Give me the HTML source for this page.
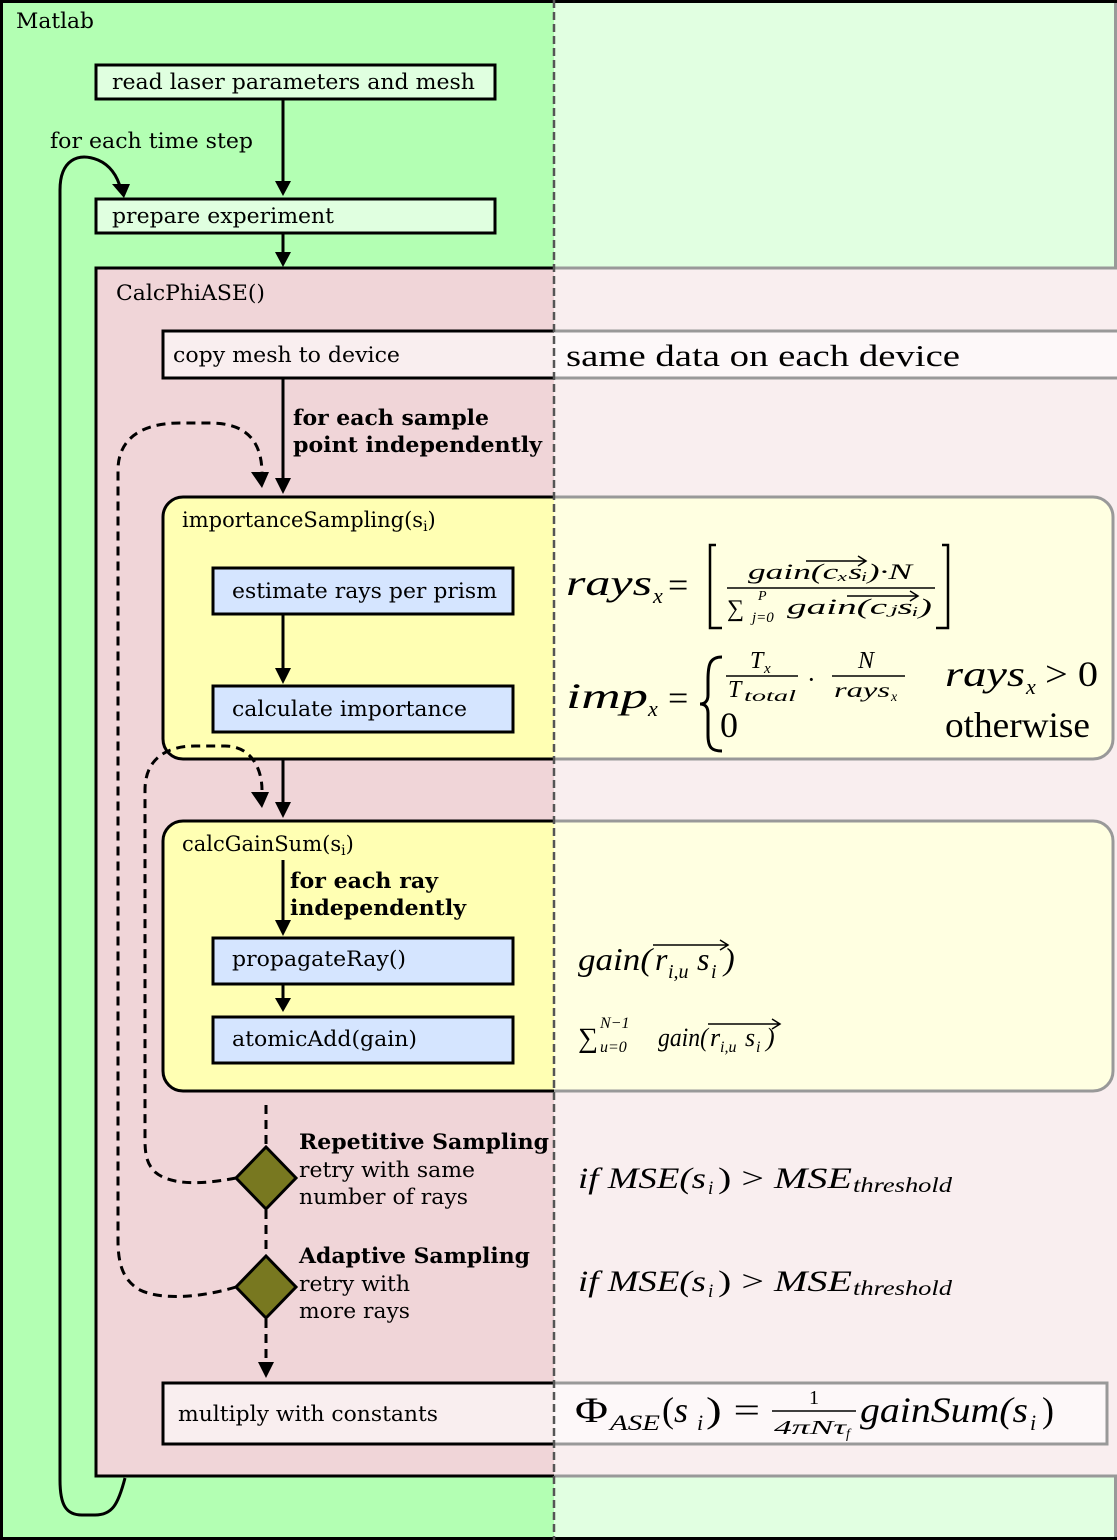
<!DOCTYPE html>
<html><head><meta charset="utf-8"><style>
html,body{margin:0;padding:0;background:#fff}
svg{display:block}
.s{font-family:"DejaVu Serif","Liberation Serif",serif;font-size:21px;fill:#000}
.b{font-weight:bold}
.m{font-family:"Liberation Serif","DejaVu Serif",serif;font-style:italic;fill:#000}
.u{font-family:"Liberation Serif","DejaVu Serif",serif;fill:#000}
</style></head><body>
<svg width="1117" height="1540" viewBox="0 0 1117 1540" xmlns="http://www.w3.org/2000/svg">
<rect x="1.5" y="1.5" width="1114" height="1537" fill="#b3ffb3" stroke="#000" stroke-width="3"/>
<text x="16" y="28" class="s" textLength="78" lengthAdjust="spacingAndGlyphs">Matlab</text>
<rect x="96" y="65" width="399" height="34" fill="#e0ffe0" stroke="#000" stroke-width="3"/>
<text x="112" y="89" class="s" textLength="363" lengthAdjust="spacingAndGlyphs">read laser parameters and mesh</text>
<line x1="283" y1="99" x2="283" y2="182" stroke="#000" stroke-width="3"/>
<polygon points="275,181 291,181 283,196" fill="#000"/>
<text x="50" y="148" class="s" textLength="203" lengthAdjust="spacingAndGlyphs">for each time step</text>
<rect x="96" y="199" width="399" height="34" fill="#e0ffe0" stroke="#000" stroke-width="3"/>
<text x="112" y="223" class="s" textLength="222" lengthAdjust="spacingAndGlyphs">prepare experiment</text>
<line x1="283" y1="233" x2="283" y2="254" stroke="#000" stroke-width="3"/>
<polygon points="275,252 291,252 283,267" fill="#000"/>
<path d="M125,1478 C118,1505 112,1515 95,1515 L82,1515 C66,1515 60,1505 60,1480 L60,190 C60,160 78,152 98,160 C112,166 118,178 121,190" fill="none" stroke="#000" stroke-width="3"/>
<polygon points="112,184 130,184 124,198" fill="#000"/>
<rect x="96" y="268" width="1030" height="1208" fill="#f0d5d8" stroke="#000" stroke-width="3"/>
<text x="116" y="300" class="s" textLength="149" lengthAdjust="spacingAndGlyphs">CalcPhiASE()</text>
<rect x="163" y="331" width="960" height="47" fill="#f9eeef" stroke="#000" stroke-width="3"/>
<text x="173" y="362" class="s" textLength="227" lengthAdjust="spacingAndGlyphs">copy mesh to device</text>
<line x1="283" y1="378" x2="283" y2="480" stroke="#000" stroke-width="3"/>
<polygon points="275,478 291,478 283,494" fill="#000"/>
<text x="293" y="425" class="s b" textLength="196" lengthAdjust="spacingAndGlyphs">for each sample</text>
<text x="293" y="452" class="s b" textLength="249" lengthAdjust="spacingAndGlyphs">point independently</text>
<path d="M236,1287 C200,1298 160,1300 140,1290 C122,1280 118,1262 118,1240 L118,470 C118,440 140,423 180,423 L210,423 C250,423 262,445 262,474" fill="none" stroke="#000" stroke-width="3" stroke-dasharray="9,6"/>
<polygon points="251,472 269,472 262,488" fill="#000"/>
<rect x="163" y="497" width="950" height="262" rx="20" fill="#ffffb3" stroke="#000" stroke-width="3"/>
<text x="182" y="527" class="s">importanceSampling(s<tspan font-size="14" dy="4">i</tspan><tspan dy="-4">)</tspan></text>
<rect x="213" y="568" width="300" height="46" fill="#d5e5ff" stroke="#000" stroke-width="3"/>
<text x="232" y="598" class="s" textLength="265" lengthAdjust="spacingAndGlyphs">estimate rays per prism</text>
<line x1="283" y1="614" x2="283" y2="670" stroke="#000" stroke-width="3"/>
<polygon points="275,668 291,668 283,684" fill="#000"/>
<rect x="213" y="686" width="300" height="46" fill="#d5e5ff" stroke="#000" stroke-width="3"/>
<text x="232" y="716" class="s" textLength="235" lengthAdjust="spacingAndGlyphs">calculate importance</text>
<line x1="283" y1="759" x2="283" y2="805" stroke="#000" stroke-width="3"/>
<polygon points="275,802 291,802 283,818" fill="#000"/>
<path d="M236,1178 C200,1185 170,1185 155,1172 C147,1164 145,1155 145,1140 L145,790 C145,760 165,746 195,746 L225,746 C252,746 262,770 262,790" fill="none" stroke="#000" stroke-width="3" stroke-dasharray="9,6"/>
<polygon points="251,792 269,792 262,808" fill="#000"/>
<rect x="163" y="821" width="950" height="270" rx="20" fill="#ffffb3" stroke="#000" stroke-width="3"/>
<text x="182" y="851" class="s">calcGainSum(s<tspan font-size="14" dy="4">i</tspan><tspan dy="-4">)</tspan></text>
<line x1="283" y1="860" x2="283" y2="922" stroke="#000" stroke-width="3"/>
<polygon points="275,920 291,920 283,936" fill="#000"/>
<text x="290" y="888" class="s b" textLength="148" lengthAdjust="spacingAndGlyphs">for each ray</text>
<text x="290" y="915" class="s b" textLength="176" lengthAdjust="spacingAndGlyphs">independently</text>
<rect x="213" y="938" width="300" height="46" fill="#d5e5ff" stroke="#000" stroke-width="3"/>
<text x="232" y="966" class="s" textLength="174" lengthAdjust="spacingAndGlyphs">propagateRay()</text>
<line x1="283" y1="984" x2="283" y2="1000" stroke="#000" stroke-width="3"/>
<polygon points="275,998 291,998 283,1012" fill="#000"/>
<rect x="213" y="1017" width="300" height="46" fill="#d5e5ff" stroke="#000" stroke-width="3"/>
<text x="232" y="1046" class="s" textLength="185" lengthAdjust="spacingAndGlyphs">atomicAdd(gain)</text>
<line x1="266" y1="1105" x2="266" y2="1146" stroke="#000" stroke-width="3" stroke-dasharray="9,6"/>
<polygon points="266,1147 296,1178 266,1209 236,1178" fill="#787820" stroke="#000" stroke-width="3"/>
<line x1="266" y1="1210" x2="266" y2="1255" stroke="#000" stroke-width="3" stroke-dasharray="9,6"/>
<polygon points="266,1256 296,1287 266,1318 236,1287" fill="#787820" stroke="#000" stroke-width="3"/>
<line x1="266" y1="1319" x2="266" y2="1362" stroke="#000" stroke-width="3" stroke-dasharray="9,6"/>
<polygon points="258,1362 274,1362 266,1378" fill="#000"/>
<text x="299" y="1149" class="s b" textLength="250" lengthAdjust="spacingAndGlyphs">Repetitive Sampling</text>
<text x="299" y="1177" class="s" textLength="176" lengthAdjust="spacingAndGlyphs">retry with same</text>
<text x="299" y="1204" class="s" textLength="169" lengthAdjust="spacingAndGlyphs">number of rays</text>
<text x="299" y="1263" class="s b" textLength="231" lengthAdjust="spacingAndGlyphs">Adaptive Sampling</text>
<text x="299" y="1291" class="s" textLength="111" lengthAdjust="spacingAndGlyphs">retry with</text>
<text x="299" y="1318" class="s" textLength="111" lengthAdjust="spacingAndGlyphs">more rays</text>
<rect x="163" y="1383" width="944" height="61" fill="#f9eeef" stroke="#000" stroke-width="3"/>
<text x="178" y="1421" class="s" textLength="260" lengthAdjust="spacingAndGlyphs">multiply with constants</text>
<rect x="554" y="3" width="563" height="1534" fill="#fff" opacity="0.6"/>
<line x1="554" y1="0" x2="554" y2="1540" stroke="#555" stroke-width="2.5" stroke-dasharray="8,4"/>
<text x="566" y="366" class="u" font-size="31" textLength="394" lengthAdjust="spacingAndGlyphs">same data on each device</text>

<text x="566" y="595" class="m" font-size="36" textLength="86" lengthAdjust="spacingAndGlyphs">rays</text>
<text x="653" y="603" class="m" font-size="22">x</text>
<text x="668" y="597" class="u" font-size="36">=</text>
<path d="M716,545 L710,545 L710,628 L722,628 M942,545 L948,545 L948,628 L936,628" fill="none" stroke="#000" stroke-width="2.5"/>
<text x="748" y="579" class="m" font-size="22" textLength="164" lengthAdjust="spacingAndGlyphs">gain(cₓsᵢ)·N</text>
<path d="M806,561 L866,561 M858,556 L866,561 L858,566" fill="none" stroke="#000" stroke-width="1.5"/>
<line x1="727" y1="588" x2="935" y2="588" stroke="#000" stroke-width="1.5"/>
<text x="727" y="616" class="u" font-size="24">∑</text>
<text x="758" y="600" class="m" font-size="14">P</text>
<text x="752" y="622" class="m" font-size="15">j=0</text>
<text x="787" y="614" class="m" font-size="22" textLength="145" lengthAdjust="spacingAndGlyphs">gain(cⱼsᵢ)</text>
<path d="M847,596 L918,596 M910,591 L918,596 L910,601" fill="none" stroke="#000" stroke-width="1.5"/>

<text x="566" y="708" class="m" font-size="36" textLength="82" lengthAdjust="spacingAndGlyphs">imp</text>
<text x="648" y="716" class="m" font-size="22">x</text>
<text x="668" y="710" class="u" font-size="36">=</text>
<path d="M722,657 C710,657 708,664 708,680 L708,695 C708,702 704,704 700,704 C704,704 708,706 708,713 L708,735 C708,748 712,751 722,751" fill="none" stroke="#000" stroke-width="3"/>
<text x="750" y="668" class="m" font-size="24">T</text>
<text x="764" y="673" class="m" font-size="15">x</text>
<line x1="726" y1="676" x2="798" y2="676" stroke="#000" stroke-width="1.5"/>
<text x="728" y="697" class="m" font-size="24">T</text>
<text x="744" y="701" class="m" font-size="16" textLength="52" lengthAdjust="spacingAndGlyphs">total</text>
<text x="807" y="688" class="u" font-size="26">·</text>
<text x="858" y="668" class="m" font-size="24">N</text>
<line x1="832" y1="676" x2="905" y2="676" stroke="#000" stroke-width="1.5"/>
<text x="834" y="697" class="m" font-size="20" textLength="56" lengthAdjust="spacingAndGlyphs">rays</text>
<text x="891" y="701" class="m" font-size="14">x</text>
<text x="945" y="686" class="m" font-size="36" textLength="80" lengthAdjust="spacingAndGlyphs">rays</text>
<text x="1026" y="694" class="m" font-size="22">x</text>
<text x="1045" y="686" class="u" font-size="36" textLength="53" lengthAdjust="spacingAndGlyphs">&gt; 0</text>
<text x="720" y="737" class="u" font-size="36">0</text>
<text x="945" y="737" class="u" font-size="36" textLength="145" lengthAdjust="spacingAndGlyphs">otherwise</text>

<text x="578" y="970" class="m" font-size="32" textLength="74" lengthAdjust="spacingAndGlyphs">gain(</text>
<text x="655" y="970" class="m" font-size="32">r</text>
<text x="668" y="978" class="m" font-size="20">i,u</text>
<text x="697" y="970" class="m" font-size="32">s</text>
<text x="711" y="978" class="m" font-size="20">i</text>
<text x="724" y="970" class="m" font-size="32">)</text>
<path d="M653,945 L728,945 M720,940 L728,945 L720,950" fill="none" stroke="#000" stroke-width="1.5"/>

<text x="578" y="1047" class="u" font-size="28">∑</text>
<text x="600" y="1028" class="m" font-size="16">N−1</text>
<text x="600" y="1052" class="m" font-size="16">u=0</text>
<text x="658" y="1046" class="m" font-size="26" textLength="50" lengthAdjust="spacingAndGlyphs">gain(</text>
<text x="710" y="1046" class="m" font-size="26">r</text>
<text x="720" y="1052" class="m" font-size="16">i,u</text>
<text x="745" y="1046" class="m" font-size="26">s</text>
<text x="756" y="1052" class="m" font-size="16">i</text>
<text x="766" y="1046" class="m" font-size="26">)</text>
<path d="M708,1024 L780,1024 M772,1019 L780,1024 L772,1029" fill="none" stroke="#000" stroke-width="1.5"/>

<text x="578" y="1188" class="m" font-size="30" textLength="128" lengthAdjust="spacingAndGlyphs">if MSE(s</text>
<text x="708" y="1194" class="m" font-size="19">i</text>
<text x="718" y="1188" class="u" font-size="30" textLength="134" lengthAdjust="spacingAndGlyphs">) &gt; <tspan font-style="italic">MSE</tspan></text>
<text x="853" y="1192" class="m" font-size="21" textLength="99" lengthAdjust="spacingAndGlyphs">threshold</text>
<text x="578" y="1291" class="m" font-size="30" textLength="128" lengthAdjust="spacingAndGlyphs">if MSE(s</text>
<text x="708" y="1297" class="m" font-size="19">i</text>
<text x="718" y="1291" class="u" font-size="30" textLength="134" lengthAdjust="spacingAndGlyphs">) &gt; <tspan font-style="italic">MSE</tspan></text>
<text x="853" y="1295" class="m" font-size="21" textLength="99" lengthAdjust="spacingAndGlyphs">threshold</text>

<text x="575" y="1422" class="u" font-size="36" textLength="33" lengthAdjust="spacingAndGlyphs">Φ</text>
<text x="610" y="1430" class="m" font-size="22" textLength="50" lengthAdjust="spacingAndGlyphs">ASE</text>
<text x="662" y="1422" class="u" font-size="36">(<tspan font-style="italic">s</tspan></text>
<text x="697" y="1430" class="m" font-size="22">i</text>
<text x="706" y="1422" class="u" font-size="36" textLength="54" lengthAdjust="spacingAndGlyphs">) =</text>
<text x="814" y="1404" class="u" font-size="20" text-anchor="middle">1</text>
<line x1="772" y1="1411" x2="856" y2="1411" stroke="#000" stroke-width="1.5"/>
<text x="774" y="1434" class="m" font-size="20" textLength="72" lengthAdjust="spacingAndGlyphs">4πNτ</text>
<text x="846" y="1438" class="m" font-size="14">f</text>
<text x="860" y="1422" class="m" font-size="36" textLength="168" lengthAdjust="spacingAndGlyphs">gainSum(s</text>
<text x="1030" y="1430" class="m" font-size="22">i</text>
<text x="1042" y="1422" class="u" font-size="36">)</text>
</svg>
</body></html>
